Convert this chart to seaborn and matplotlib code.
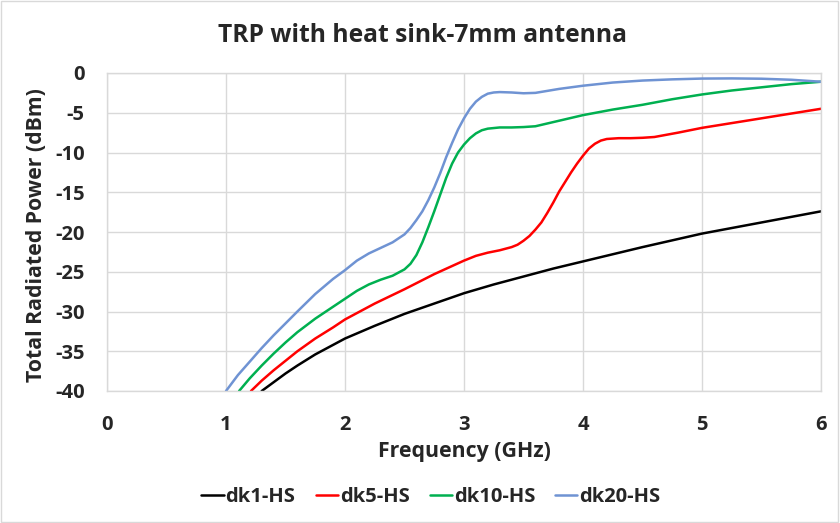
import matplotlib
matplotlib.use("Agg")
import matplotlib.pyplot as plt
import seaborn as sns
import pandas as pd
from matplotlib.patches import Rectangle

# ---- data ----
freq_dk1 = [1.30, 1.4, 1.5, 1.6, 1.75, 1.9, 2.0, 2.25, 2.5, 2.75, 3.0, 3.25, 3.5, 3.75,
            4.0, 4.5, 5.0, 5.5, 6.0]
pow_dk1 = [-40, -38.9, -37.8, -36.8, -35.4, -34.2, -33.4, -31.8, -30.3, -29.0, -27.7, -26.6,
           -25.6, -24.6, -23.7, -21.9, -20.2, -18.8, -17.4]

freq_dk5 = [1.21, 1.3, 1.4, 1.5, 1.6, 1.75, 1.9, 2.0, 2.25, 2.5, 2.75, 3.0, 3.1, 3.2, 3.3,
            3.4, 3.45, 3.5, 3.55, 3.6, 3.65, 3.7, 3.75, 3.8, 3.85, 3.9, 3.95, 4.0, 4.05,
            4.1, 4.15, 4.2, 4.3, 4.4, 4.5, 4.6, 4.8, 5.0, 5.25, 5.5, 5.75, 6.0]
pow_dk5 = [-40, -38.7, -37.4, -36.2, -35.0, -33.4, -32.0, -31.0, -29.0, -27.2, -25.3, -23.6,
           -23.0, -22.6, -22.3, -21.9, -21.6, -21.1, -20.5, -19.7, -18.8, -17.6, -16.3,
           -14.9, -13.7, -12.5, -11.4, -10.4, -9.5, -8.9, -8.5, -8.3, -8.2, -8.2, -8.15,
           -8.05, -7.5, -6.9, -6.3, -5.7, -5.1, -4.5]

freq_dk10 = [1.11, 1.2, 1.3, 1.4, 1.5, 1.6, 1.75, 1.9, 2.0, 2.1, 2.2, 2.3, 2.4, 2.5, 2.55,
             2.6, 2.65, 2.7, 2.75, 2.8, 2.85, 2.9, 2.95, 3.0, 3.05, 3.1, 3.15, 3.2, 3.3,
             3.4, 3.5, 3.6, 3.8, 4.0, 4.25, 4.5, 4.75, 5.0, 5.25, 5.5, 5.75, 6.0]
pow_dk10 = [-40, -38.4, -36.8, -35.3, -33.9, -32.6, -30.9, -29.4, -28.4, -27.4, -26.6, -26.0,
            -25.5, -24.7, -24.0, -22.9, -21.3, -19.4, -17.4, -15.3, -13.2, -11.4, -10.0,
            -9.0, -8.2, -7.6, -7.2, -7.0, -6.85, -6.85, -6.8, -6.7, -6.0, -5.3, -4.6,
            -4.0, -3.3, -2.7, -2.2, -1.8, -1.4, -1.1]

freq_dk20 = [1.0, 1.1, 1.2, 1.3, 1.4, 1.5, 1.6, 1.75, 1.9, 2.0, 2.1, 2.2, 2.3, 2.4, 2.5,
             2.55, 2.6, 2.65, 2.7, 2.75, 2.8, 2.85, 2.9, 2.95, 3.0, 3.05, 3.1, 3.15, 3.2,
             3.25, 3.3, 3.4, 3.5, 3.6, 3.7, 3.8, 4.0, 4.25, 4.5, 4.75, 5.0, 5.25, 5.5,
             5.75, 6.0]
pow_dk20 = [-40, -38.0, -36.3, -34.6, -33.0, -31.5, -30.0, -27.8, -25.9, -24.8, -23.6, -22.7,
            -22.0, -21.3, -20.3, -19.5, -18.5, -17.4, -16.0, -14.4, -12.6, -10.6, -8.8,
            -7.1, -5.7, -4.5, -3.6, -3.0, -2.6, -2.45, -2.4, -2.45, -2.55, -2.5, -2.25,
            -2.0, -1.6, -1.2, -0.95, -0.8, -0.7, -0.68, -0.72, -0.85, -1.1]

series_names = ["dk1-HS", "dk5-HS", "dk10-HS", "dk20-HS"]
series_colors = ["#000000", "#FF0000", "#00B050", "#6F93D3"]

x_ticks = [0, 1, 2, 3, 4, 5, 6]
y_ticks = [0, -5, -10, -15, -20, -25, -30, -35, -40]

frames = []
for name, f, p in zip(series_names,
                      [freq_dk1, freq_dk5, freq_dk10, freq_dk20],
                      [pow_dk1, pow_dk5, pow_dk10, pow_dk20]):
    frames.append(pd.DataFrame({"Frequency": f, "Power": p, "Series": name}))
df = pd.concat(frames, ignore_index=True)

sns.set_theme(style="whitegrid")
plt.rcParams["font.family"] = ["Open Sans", "DejaVu Sans"]
plt.rcParams["axes.unicode_minus"] = False

fig = plt.figure(figsize=(8.4, 5.23), dpi=100)
ax = fig.add_axes([107/840, 1-391/523, (821-107)/840, (391-73)/523])

sns.lineplot(data=df, x="Frequency", y="Power", hue="Series", hue_order=series_names,
             palette=dict(zip(series_names, series_colors)), estimator=None, sort=False,
             linewidth=1.8, ax=ax)

ax.set_xlim(0, 6)
ax.set_ylim(-40, 0)
ax.set_xticks(x_ticks)
ax.set_yticks(y_ticks)
ax.set_xticklabels([str(v) for v in x_ticks], fontsize=14.5, fontweight="bold")
ax.set_yticklabels([str(v) for v in y_ticks], fontsize=14.5, fontweight="bold")
ax.tick_params(axis="x", length=0, pad=17)
ax.tick_params(axis="y", length=0, pad=16)
ax.grid(True, color="#D9D9D9", linewidth=1)
for s in ax.spines.values():
    s.set_visible(True)
    s.set_color("#D9D9D9")
    s.set_linewidth(1)

ax.set_xlabel("Frequency (GHz)", fontsize=15.3, fontweight="bold")
ax.set_ylabel("Total Radiated Power (dBm)", fontsize=15.3, fontweight="bold")
ax.xaxis.label.set_va("center")
ax.yaxis.label.set_va("center")
ax.xaxis.set_label_coords(0.5, (391-452)/318)
ax.yaxis.set_label_coords((37-107)/714, 0.49)

fig.text(423/840, 1-42/523, "TRP with heat sink-7mm antenna", ha="center", va="baseline",
         fontsize=17.7, fontweight="bold")

handles, labels = ax.get_legend_handles_labels()
ax.legend(handles, labels, loc="center", bbox_to_anchor=(431/840, 1-497/523),
          bbox_transform=fig.transFigure, ncol=4, frameon=False, handlelength=1.1,
          handletextpad=0.1, columnspacing=1.0,
          prop={"size": 14.5, "weight": "bold"})

fig.patches.append(Rectangle((0.001, 0.001), 0.997, 0.997, transform=fig.transFigure,
                             fill=False, edgecolor="#D9D9D9", linewidth=1))

fig.savefig("out.png", dpi=100)
